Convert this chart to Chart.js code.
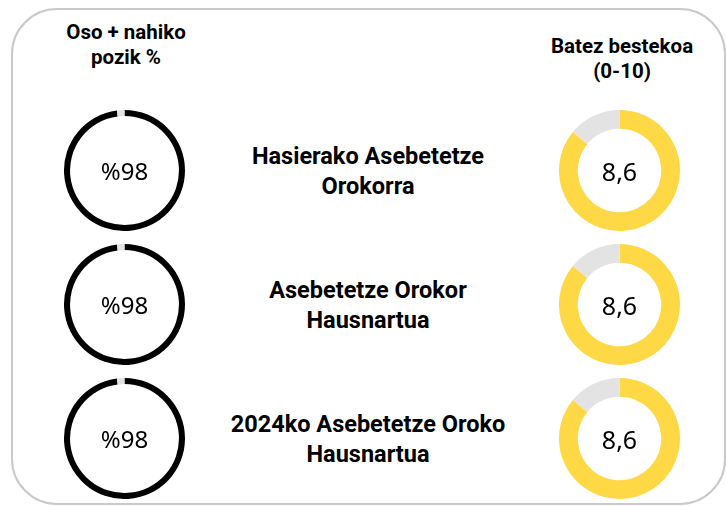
<!DOCTYPE html>
<html lang="eu">
<head>
  <meta charset="UTF-8">
  <title>Asebetetzea</title>
  <script src="https://cdn.jsdelivr.net/npm/chart.js"></script>
  <style>
    body {
      margin: 0;
      width: 726px;
      height: 506px;
      position: relative;
      overflow: hidden;
      background: #fff;
      font-family: Roboto, sans-serif;
    }
    /* kanpoko markoa */
    .frame {
      position: absolute;
      left: 11px;
      top: 8px;
      width: 711px;
      height: 493px;
      border: 2px solid #c9c9c9;
      border-radius: 46px;
    }
    .head {
      position: absolute;
      width: 220px;
      text-align: center;
      font-weight: bold;
      font-size: 20.5px;
      line-height: 25px;
      color: #000;
    }
    .label {
      position: absolute;
      left: 198px;
      width: 340px;
      text-align: center;
      font-weight: bold;
      font-size: 23.5px;
      line-height: 30px;
      color: #000;
    }
    .ring {
      position: absolute;
      width: 121px;
      height: 121px;
    }
    .value {
      position: absolute;
      width: 121px;
      height: 121px;
      display: flex;
      align-items: center;
      justify-content: center;
      font-family: "Noto Sans", sans-serif;
      color: #000;
    }
  </style>
</head>
<body>
  <div class="frame"></div>
  <div class="head" style="left:16px; top:20px;">Oso + nahiko<br>pozik %</div>
  <div class="head" style="left:512px; top:34px;">Batez bestekoa<br>(0-10)</div>
  <div id="rows"></div>

  <script>
    // datuak
    const rowLabels = [
      ['Hasierako Asebetetze', 'Orokorra'],
      ['Asebetetze Orokor', 'Hausnartua'],
      ['2024ko Asebetetze Oroko', 'Hausnartua']
    ];
    const pozikPct = [98, 98, 98];
    const batezBestekoa = [8.6, 8.6, 8.6];
    const maxScore = 10;

    const rowTop = [110, 244, 378];
    const leftX = 64;
    const rightX = 559;

    const rows = document.getElementById('rows');

    function makeRing(x, y, values, colors, cutout, text, fontSize) {
      const box = document.createElement('div');
      box.className = 'ring';
      box.style.left = x + 'px';
      box.style.top = y + 'px';
      const cv = document.createElement('canvas');
      box.appendChild(cv);
      rows.appendChild(box);

      const val = document.createElement('div');
      val.className = 'value';
      val.style.left = x + 'px';
      val.style.top = y + 'px';
      val.style.fontSize = fontSize + 'px';
      val.textContent = text;
      rows.appendChild(val);

      new Chart(cv, {
        type: 'doughnut',
        data: {
          labels: ['a', 'b'],
          datasets: [{
            data: values,
            backgroundColor: colors,
            borderWidth: 0
          }]
        },
        options: {
          responsive: true,
          maintainAspectRatio: false,
          animation: false,
          cutout: cutout,
          layout: { padding: 0 },
          plugins: { legend: { display: false }, tooltip: { enabled: false } }
        }
      });
    }

    rowLabels.forEach((lines, i) => {
      const lab = document.createElement('div');
      lab.className = 'label';
      lab.style.top = (rowTop[i] + 31) + 'px';
      lab.innerHTML = lines.join('<br>');
      rows.appendChild(lab);

      makeRing(leftX, rowTop[i], [pozikPct[i], 100 - pozikPct[i]],
        ['#000000', '#e2e2e2'], '90%', '%' + pozikPct[i], 24);

      makeRing(rightX, rowTop[i], [batezBestekoa[i], maxScore - batezBestekoa[i]],
        ['#ffd846', '#e3e3e3'], '69%', batezBestekoa[i].toFixed(1).replace('.', ','), 25);
    });
  </script>
</body>
</html>
